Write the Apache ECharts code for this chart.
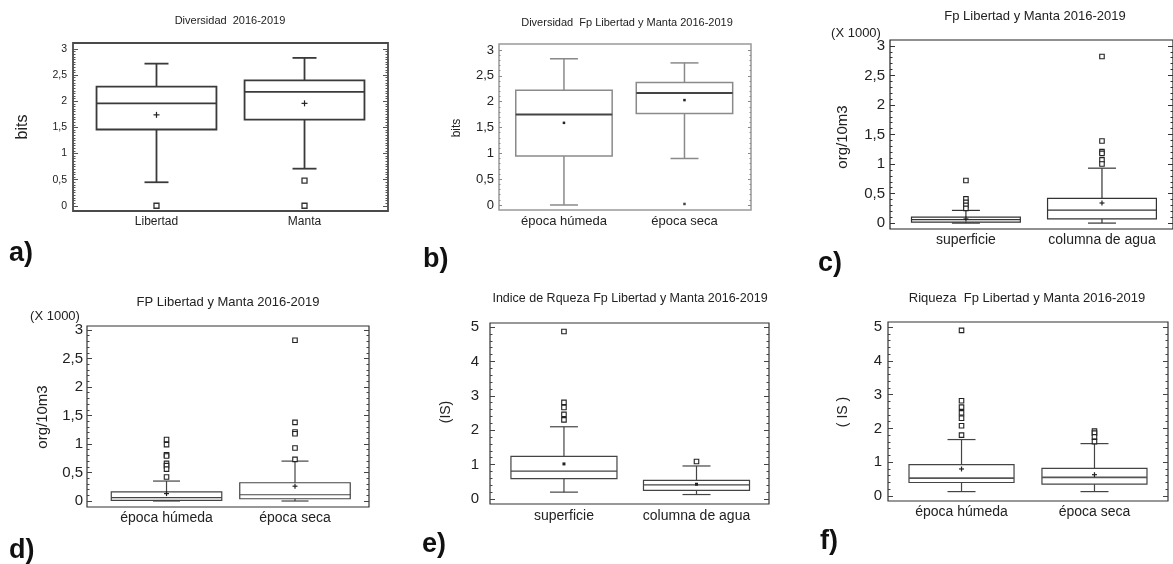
<!DOCTYPE html>
<html>
<head>
<meta charset="utf-8">
<script src="https://cdn.jsdelivr.net/npm/echarts@6/dist/echarts.min.js"></script>
<style>
  html, body { margin: 0; padding: 0; background: #fff; }
  #chart { width: 1173px; height: 564px; }
</style>
</head>
<body>
<div id="chart"></div>
<script>
// Box data: [lower whisker, Q1, median, Q3, upper whisker]; outliers as [category index, value]

// a) Diversidad por localidad (bits)
const catsA = ['Libertad', 'Manta'];
const boxA = [[0.45, 1.46, 1.96, 2.28, 2.72], [0.71, 1.65, 2.18, 2.40, 2.83]];
const meanA = [1.74, 1.96];
const outA = [[0, 0], [1, 0.48], [1, 0]];
const ticksA = [0, 0.5, 1, 1.5, 2, 2.5, 3];

// b) Diversidad por época (bits)
const catsB = ['época húmeda', 'época seca'];
const boxB = [[0, 0.95, 1.75, 2.22, 2.83], [0.90, 1.77, 2.17, 2.37, 2.75]];
const meanB = [1.59, 2.03];
const outB = [[1, 0.02]];
const ticksB = [0, 0.5, 1, 1.5, 2, 2.5, 3];

// c) Abundancia por estrato (org/10m3, x 1000)
const catsC = ['superficie', 'columna de agua'];
const boxC = [[0, 0.017, 0.06, 0.10, 0.215], [0, 0.07, 0.22, 0.42, 0.93]];
const meanC = [0.07, 0.34];
const outC = [[0, 0.72], [0, 0.41], [0, 0.35], [0, 0.30], [0, 0.25],
              [1, 2.82], [1, 1.39], [1, 1.21], [1, 1.18], [1, 1.07], [1, 1.00]];
const ticksC = [0, 0.5, 1, 1.5, 2, 2.5, 3];

// d) Abundancia por época (org/10m3, x 1000)
const catsD = ['época húmeda', 'época seca'];
const boxD = [[0, 0.01, 0.06, 0.16, 0.35], [0, 0.04, 0.11, 0.32, 0.70]];
const meanD = [0.13, 0.26];
const outD = [[0, 1.08], [0, 0.99], [0, 0.81], [0, 0.79], [0, 0.66], [0, 0.62], [0, 0.56], [0, 0.42],
              [1, 2.82], [1, 1.38], [1, 1.21], [1, 1.18], [1, 0.93], [1, 0.73]];
const ticksD = [0, 0.5, 1, 1.5, 2, 2.5, 3];

// e) Índice de riqueza por estrato (IS)
const catsE = ['superficie', 'columna de agua'];
const boxE = [[0.20, 0.59, 0.81, 1.24, 2.10], [0.13, 0.25, 0.41, 0.54, 0.96]];
const meanE = [1.02, 0.43];
const outE = [[0, 4.87], [0, 2.81], [0, 2.66], [0, 2.46], [0, 2.30], [1, 1.09]];
const ticksE = [0, 1, 2, 3, 4, 5];

// f) Riqueza por época (IS)
const catsF = ['época húmeda', 'época seca'];
const boxF = [[0.13, 0.40, 0.53, 0.93, 1.67], [0.13, 0.35, 0.55, 0.82, 1.55]];
const meanF = [0.80, 0.63];
const outF = [[0, 4.90], [0, 2.82], [0, 2.63], [0, 2.46], [0, 2.30], [0, 2.08], [0, 1.80],
              [1, 1.92], [1, 1.86], [1, 1.75], [1, 1.61]];
const ticksF = [0, 1, 2, 3, 4, 5];

const SANS = "'Liberation Sans', Arial, sans-serif";
const NARROW = "'Liberation Sans Narrow', 'Arial Narrow', 'Liberation Sans', sans-serif";

const panels = [
  {
    cats: catsA, box: boxA, mean: meanA, out: outA, ticks: ticksA, minor: 0.05,
    grid: { left: 73, top: 43, width: 315, height: 168 }, x: [-0.564, 1.564], y: [-0.1, 3.115],
    frame: { color: '#4a4a4a', width: 1.8 }, stroke: '#3a3a3a', medStroke: '#3a3a3a', lw: 1.8,
    boxFrac: 0.81, cap: 24, meanMark: 'plus', meanSize: 6,
    outStyle: { size: 5, fill: '#fff', border: '#333', bw: 1.3 },
    tickFont: [10.5, NARROW], catFont: [12, NARROW], labelMargin: 6, catMargin: 5,
    majorLen: 5, minorLen: 2.5, tickColor: '#555',
    title: { text: 'Diversidad  2016-2019', x: 230, y: 21, font: '11px ' + NARROW },
    yName: { text: 'bits', x: 23, y: 127, font: '16px ' + SANS },
    letter: { text: 'a)', x: 9, y: 254 }
  },
  {
    cats: catsB, box: boxB, mean: meanB, out: outB, ticks: ticksB, minor: 0.1,
    grid: { left: 499, top: 44, width: 252, height: 166 }, x: [-0.539, 1.552], y: [-0.097, 3.116],
    frame: { color: '#999', width: 1.5 }, stroke: '#8a8a8a', medStroke: '#444', lw: 1.5,
    boxFrac: 0.80, cap: 28, meanMark: 'dot', meanSize: 2.5,
    outStyle: { size: 2.5, fill: '#444', border: '#444', bw: 0 },
    tickFont: [13, SANS], catFont: [13, SANS], labelMargin: 5, catMargin: 4.5,
    majorLen: 3, minorLen: 1.5, tickColor: '#888',
    title: { text: 'Diversidad  Fp Libertad y Manta 2016-2019', x: 627, y: 23, font: '11px ' + SANS },
    yName: { text: 'bits', x: 457, y: 128, font: '12px ' + SANS },
    letter: { text: 'b)', x: 423, y: 260 }
  },
  {
    cats: catsC, box: boxC, mean: meanC, out: outC, ticks: ticksC, minor: 0.1,
    grid: { left: 890, top: 40, width: 285, height: 189 }, x: [-0.558, 1.522], y: [-0.10, 3.10],
    frame: { color: '#222', width: 1.2 }, stroke: '#333', medStroke: '#333', lw: 1.2,
    boxFrac: 0.80, cap: 28, meanMark: 'plus', meanSize: 5,
    outStyle: { size: 4.5, fill: '#fff', border: '#222', bw: 1.1 },
    tickFont: [15, SANS], catFont: [14, SANS], labelMargin: 5, catMargin: 4,
    majorLen: 5, minorLen: 2.5, tickColor: '#333',
    title: { text: 'Fp Libertad y Manta 2016-2019', x: 1035, y: 16, font: '13px ' + SANS },
    yName: { text: 'org/10m3', x: 843, y: 137, font: '15px ' + SANS },
    unit: { text: '(X 1000)', x: 856, y: 33, font: '13px ' + SANS },
    letter: { text: 'c)', x: 818, y: 264 }
  },
  {
    cats: catsD, box: boxD, mean: meanD, out: outD, ticks: ticksD, minor: 0.1,
    grid: { left: 87, top: 326, width: 282, height: 181 }, x: [-0.619, 1.576], y: [-0.105, 3.07],
    frame: { color: '#333', width: 1.2 }, stroke: '#444', medStroke: '#444', lw: 1.2,
    boxFrac: 0.86, cap: 27, meanMark: 'plus', meanSize: 5,
    outStyle: { size: 4.5, fill: '#fff', border: '#222', bw: 1.1 },
    tickFont: [15, SANS], catFont: [14, SANS], labelMargin: 4, catMargin: 4,
    majorLen: 5, minorLen: 2.5, tickColor: '#444',
    title: { text: 'FP Libertad y Manta 2016-2019', x: 228, y: 302, font: '13px ' + SANS },
    yName: { text: 'org/10m3', x: 43, y: 417, font: '15px ' + SANS },
    unit: { text: '(X 1000)', x: 55, y: 316, font: '13px ' + SANS },
    letter: { text: 'd)', x: 9, y: 551 }
  },
  {
    cats: catsE, box: boxE, mean: meanE, out: outE, ticks: ticksE, minor: 0.2,
    grid: { left: 490, top: 323, width: 279, height: 181 }, x: [-0.558, 1.547], y: [-0.145, 5.116],
    frame: { color: '#333', width: 1.2 }, stroke: '#444', medStroke: '#444', lw: 1.2,
    boxFrac: 0.80, cap: 28, meanMark: 'dot', meanSize: 3,
    outStyle: { size: 4.5, fill: '#fff', border: '#222', bw: 1.1 },
    tickFont: [15, SANS], catFont: [14, SANS], labelMargin: 11, catMargin: 5,
    majorLen: 5, minorLen: 2.5, tickColor: '#444',
    title: { text: 'Indice de Rqueza Fp Libertad y Manta 2016-2019', x: 630, y: 299, font: '12.5px ' + SANS },
    yName: { text: '(IS)', x: 446, y: 412, font: '14px ' + SANS },
    letter: { text: 'e)', x: 422, y: 545 }
  },
  {
    cats: catsF, box: boxF, mean: meanF, out: outF, ticks: ticksF, minor: 0.2,
    grid: { left: 888, top: 322, width: 280, height: 179 }, x: [-0.553, 1.553], y: [-0.148, 5.148],
    frame: { color: '#333', width: 1.2 }, stroke: '#444', medStroke: '#555', lw: 1.2,
    boxFrac: 0.79, cap: 28, meanMark: 'plus', meanSize: 5,
    outStyle: { size: 4.5, fill: '#fff', border: '#222', bw: 1.1 },
    tickFont: [15, SANS], catFont: [14, SANS], labelMargin: 6, catMargin: 4,
    majorLen: 5, minorLen: 2.5, tickColor: '#444',
    title: { text: 'Riqueza  Fp Libertad y Manta 2016-2019', x: 1027, y: 298, font: '13px ' + SANS },
    yName: { text: '( IS )', x: 843, y: 412, font: '14px ' + SANS },
    letter: { text: 'f)', x: 820, y: 542 }
  }
];

function steps(step, lo, hi) {
  const out = [];
  const n = Math.round((hi - lo) / step);
  for (let i = 0; i <= n; i++) out.push(+(lo + i * step).toFixed(4));
  return out;
}
const comma = v => String(+v.toFixed(2)).replace('.', ',');

// Box, whiskers with short caps, median and mean marker, placed through the axes
function makeBox(p) {
  return function (params, api) {
    const x = api.value(0);
    const lo = api.coord([x, api.value(1)]);
    const q1 = api.coord([x, api.value(2)]);
    const med = api.coord([x, api.value(3)]);
    const q3 = api.coord([x, api.value(4)]);
    const hi = api.coord([x, api.value(5)]);
    const mn = api.coord([x, api.value(6)]);
    const half = api.size([1, 0])[0] * p.boxFrac / 2;
    const cap = p.cap / 2;
    const cx = med[0];
    const ls = { stroke: p.stroke, lineWidth: p.lw, fill: 'none' };
    const line = (x1, y1, x2, y2, st) => ({ type: 'line', shape: { x1, y1, x2, y2 }, style: st || ls });
    const kids = [
      line(cx, q3[1], cx, hi[1]),
      line(cx - cap, hi[1], cx + cap, hi[1]),
      line(cx, q1[1], cx, lo[1]),
      line(cx - cap, lo[1], cx + cap, lo[1]),
      { type: 'rect', shape: { x: cx - half, y: q3[1], width: 2 * half, height: q1[1] - q3[1] }, style: ls },
      line(cx - half, med[1], cx + half, med[1], { stroke: p.medStroke, lineWidth: p.lw + (p.medStroke !== p.stroke ? 0.5 : 0) })
    ];
    const m = p.meanSize / 2;
    if (p.meanMark === 'plus') {
      const st = { stroke: '#222', lineWidth: 1.2 };
      kids.push(line(cx - m, mn[1], cx + m, mn[1], st));
      kids.push(line(cx, mn[1] - m, cx, mn[1] + m, st));
    } else {
      kids.push({ type: 'rect', shape: { x: cx - m, y: mn[1] - m, width: 2 * m, height: 2 * m }, style: { fill: '#222' } });
    }
    return { type: 'group', children: kids };
  };
}

const grids = [], xAxes = [], yAxes = [], series = [], graphics = [];

panels.forEach((p, k) => {
  grids.push(Object.assign({}, p.grid, {
    show: true, borderColor: p.frame.color, borderWidth: p.frame.width,
    backgroundColor: 'transparent', containLabel: false
  }));

  xAxes.push({
    type: 'value', gridIndex: k, min: p.x[0], max: p.x[1], position: 'bottom',
    axisLine: { show: false, onZero: false }, axisTick: { show: false }, splitLine: { show: false },
    axisLabel: {
      customValues: [0, 1], formatter: v => p.cats[Math.round(v)] || '',
      fontSize: p.catFont[0], fontFamily: p.catFont[1], color: '#222', margin: p.catMargin
    }
  });

  const minorVals = steps(p.minor, p.ticks[0], p.ticks[p.ticks.length - 1]);
  const base = {
    type: 'value', gridIndex: k, min: p.y[0], max: p.y[1],
    axisLine: { show: false, onZero: false }, splitLine: { show: false }
  };
  const tickLine = { color: p.tickColor, width: 1 };
  ['left', 'right'].forEach(side => {
    yAxes.push(Object.assign({}, base, {
      position: side, offset: 0,
      axisTick: { show: true, inside: true, length: p.majorLen, customValues: p.ticks, lineStyle: tickLine },
      axisLabel: side === 'left' ? {
        customValues: p.ticks, formatter: comma, fontSize: p.tickFont[0], fontFamily: p.tickFont[1],
        color: '#222', margin: p.labelMargin
      } : { show: false }
    }));
    yAxes.push(Object.assign({}, base, {
      position: side, offset: 0,
      axisTick: { show: true, inside: true, length: p.minorLen, customValues: minorVals, lineStyle: tickLine },
      axisLabel: { show: false }
    }));
  });
  // axis order per panel: left major, left minor, right major, right minor
  const yi = 4 * k;

  series.push({
    type: 'custom', xAxisIndex: k, yAxisIndex: yi, silent: true, z: 3,
    renderItem: makeBox(p),
    data: p.box.map((b, i) => [i, b[0], b[1], b[2], b[3], b[4], p.mean[i]])
  });
  series.push({
    type: 'scatter', xAxisIndex: k, yAxisIndex: yi, silent: true, z: 4,
    symbol: 'rect', symbolSize: p.outStyle.size,
    itemStyle: { color: p.outStyle.fill, borderColor: p.outStyle.border, borderWidth: p.outStyle.bw, opacity: 1 },
    data: p.out
  });

  const txt = (t, extra) => Object.assign({
    type: 'text', x: t.x, y: t.y, silent: true,
    style: { text: t.text, font: t.font, fill: '#222', textAlign: 'center', textVerticalAlign: 'middle' }
  }, extra || {});
  graphics.push(txt(p.title));
  graphics.push(txt(p.yName, { rotation: Math.PI / 2 }));
  if (p.unit) graphics.push(txt(p.unit));
  graphics.push({
    type: 'text', x: p.letter.x, y: p.letter.y, silent: true,
    style: { text: p.letter.text, font: 'bold 27px ' + SANS, fill: '#111', textAlign: 'left', textVerticalAlign: 'middle' }
  });
});

const chart = echarts.init(document.getElementById('chart'), null, { renderer: 'canvas' });
chart.setOption({
  animation: false,
  backgroundColor: '#fff',
  grid: grids,
  xAxis: xAxes,
  yAxis: yAxes,
  series: series,
  graphic: graphics
});
</script>
</body>
</html>
